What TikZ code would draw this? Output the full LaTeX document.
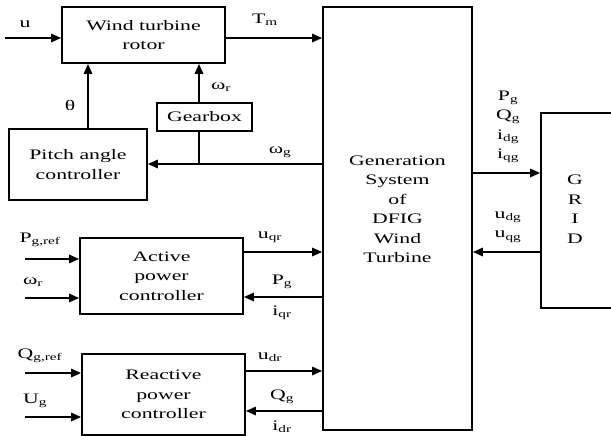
\documentclass[tikz,border=0pt]{standalone}
\usepackage{fontspec}
\setmainfont{Liberation Serif}[FakeStretch=1.5]
\usetikzlibrary{arrows.meta}
\newcommand\sbs[1]{\textsubscript{#1}}
\tikzset{
  blk/.style={draw, line width=1.8bp, inner sep=0pt, align=center},
  con/.style={line width=1.6bp},
  arr/.style={con, -{Triangle[length=10bp,width=8.5bp]}},
  lbl/.style={inner sep=0pt, align=center},
}
\begin{document}
\begin{tikzpicture}[x=1bp,y=-1bp,font=\fontsize{14.5bp}{19.5bp}\selectfont]
\useasboundingbox (0,0) rectangle (611,436);
% blocks
\node[blk, minimum width=163bp, minimum height=56bp] (rotor) at (143.5,35) {Wind turbine\\rotor};
\node[blk, minimum width=149bp, minimum height=423bp] (gen) at (397.5,218.5) {};
\node[lbl] (gentxt) at (397.5,209.5) {Generation\\System\\of\\DFIG\\Wind\\Turbine};
\node[blk, minimum width=90bp, minimum height=195bp] (grid) at (586,210.5) {};
\node[lbl] (gridtxt) at (575,209) {G\\R\\I\\D};
\node[blk, minimum width=138bp, minimum height=71bp] (pitch) at (78,164.5) {Pitch angle\\controller};
\node[blk, minimum width=95bp, minimum height=28bp] (gear) at (204.5,117) {Gearbox};
\node[blk, minimum width=163bp, minimum height=76bp] (act) at (161.5,276) {Active\\power\\controller};
\node[blk, minimum width=163bp, minimum height=81bp] (react) at (163.5,394.5) {Reactive\\power\\controller};
% free-end coordinates
\coordinate (uin) at (5,38);
\coordinate (tm) at (0,38);
\coordinate (th) at (88,0);
\coordinate (gx) at (199,0);
\coordinate (wg) at (199,164);
\coordinate (pgr) at (25,259);
\coordinate (wr) at (25,298);
\coordinate (qgr) at (25,373);
\coordinate (ug) at (25,417);
\coordinate (uqr) at (0,252);
\coordinate (pg) at (0,297);
\coordinate (udr) at (0,371);
\coordinate (qg) at (0,411);
\coordinate (out) at (0,173);
\coordinate (in) at (0,252);
% connectors
\draw[arr] (uin) -- (rotor.west |- uin);
\draw[arr] (rotor.east |- tm) -- (gen.west |- tm);
\draw[arr] (pitch.north -| th) -- (rotor.south -| th);
\draw[arr] (gear.north -| gx) -- (rotor.south -| gx);
\draw[con] (gear.south -| gx) -- (wg);
\draw[arr] (gen.west |- wg) -- (pitch.east |- wg);
\draw[arr] (pgr) -- (act.west |- pgr);
\draw[arr] (wr) -- (act.west |- wr);
\draw[arr] (qgr) -- (react.west |- qgr);
\draw[arr] (ug) -- (react.west |- ug);
\draw[arr] (act.east |- uqr) -- (gen.west |- uqr);
\draw[arr] (gen.west |- pg) -- (act.east |- pg);
\draw[arr] (react.east |- udr) -- (gen.west |- udr);
\draw[arr] (gen.west |- qg) -- (react.east |- qg);
\draw[arr] (gen.east |- out) -- (grid.west |- out);
\draw[arr] (grid.west |- in) -- (gen.east |- in);
% labels
\node[lbl] (lu) at (25,24) {u};
\node[lbl] (ltm) at (265,20) {T\sbs{m}};
\node[lbl] (lth) at (70,106) {θ};
\node[lbl] (lwr1) at (221,87) {ω\sbs{r}};
\node[lbl] (lwg) at (280,152) {ω\sbs{g}};
\node[lbl] (lout) at (508,127) {P\sbs{g}\\Q\sbs{g}\\i\sbs{dg}\\i\sbs{qg}};
\node[lbl] (lin) at (508,227) {u\sbs{dg}\\u\sbs{qg}};
\node[lbl] (lpgr) at (40,240) {P\sbs{g,ref}};
\node[lbl] (lwr2) at (33,282) {ω\sbs{r}};
\node[lbl] (lqgr) at (40,356) {Q\sbs{g,ref}};
\node[lbl] (lug) at (35,401) {U\sbs{g}};
\node[lbl] (luqr) at (270,237) {u\sbs{qr}};
\node[lbl] (lpg) at (282,282) {P\sbs{g}};
\node[lbl] (liqr) at (282,313) {i\sbs{qr}};
\node[lbl] (ludr) at (270,357) {u\sbs{dr}};
\node[lbl] (lqg) at (282,397) {Q\sbs{g}};
\node[lbl] (lidr) at (282,427) {i\sbs{dr}};
\end{tikzpicture}
\end{document}
